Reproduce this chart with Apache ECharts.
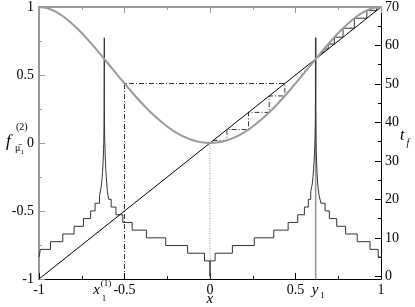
<!DOCTYPE html>
<html><head><meta charset="utf-8">
<script src="https://cdn.jsdelivr.net/npm/echarts@6/dist/echarts.min.js"></script>
<style>html,body{margin:0;padding:0;background:#fff}#c{width:415px;height:307px}</style>
</head><body><div id="c"></div>
<script>
// gray curve f^(2), read at x = -1 .. 1 step 0.05
const curveX = [-1,-0.95,-0.9,-0.85,-0.8,-0.75,-0.7,-0.65,-0.6,-0.55,-0.5,-0.45,-0.4,-0.35,-0.3,-0.25,-0.2,-0.15,-0.1,-0.05,0,
  0.05,0.1,0.15,0.2,0.25,0.3,0.35,0.4,0.45,0.5,0.55,0.6,0.65,0.7,0.75,0.8,0.85,0.9,0.95,1];
const curveY = [1,0.991,0.964,0.923,0.870,0.809,0.740,0.667,0.590,0.514,0.438,0.364,0.294,0.230,0.172,0.121,0.078,0.045,0.020,0.005,0,
  0.005,0.020,0.045,0.078,0.121,0.172,0.230,0.294,0.364,0.438,0.514,0.590,0.667,0.740,0.809,0.870,0.923,0.964,0.991,1];
// diagonal
const diagX = [-1, 1];
const diagY = [-1, 1];
// cobweb (dash-dot), lower part
const cobLowX = [-0.5,-0.5,0.4375,0.4375,0.346,0.346,0.225,0.225,0.099,0.099,0.019,0.019];
const cobLowY = [-1,0.4375,0.4375,0.346,0.346,0.225,0.225,0.099,0.099,0.019,0.019,0.002];
// cobweb (solid), upper part
const cobUpX = [0.65,0.65,0.6665,0.6665,0.6911,0.6911,0.7271,0.7271,0.7779,0.7779,0.8441,0.8441,0.9173,0.9173,0.9748,0.9748,0.9987];
const cobUpY = [0.65,0.6665,0.6665,0.6911,0.6911,0.7271,0.7271,0.7779,0.7779,0.8441,0.8441,0.9173,0.9173,0.9748,0.9748,0.9987,0.9987];
// vertical marker at y1 and dotted at 0
const y1X = [0.618, 0.618];
const y1Y = [-1, 0.773];
const dotX = [0, 0];
const dotY = [0, -1];
// staircase t_f : interval edges and values
const stairEdges = [-1,-0.992,-0.933,-0.861,-0.795,-0.740,-0.698,-0.672,-0.646,-0.637,-0.632,-0.6285,-0.626,-0.624,-0.6225,-0.621,-0.620,-0.619,-0.618,
  -0.618,
  -0.617,-0.616,-0.6145,-0.613,-0.6115,-0.6095,-0.607,-0.6035,-0.600,-0.592,-0.578,-0.550,-0.510,-0.455,-0.372,-0.259,-0.131,-0.032,0,
  0,
  0.030,0.131,0.259,0.373,0.457,0.513,0.552,0.575,0.589,0.598,0.6025,0.606,0.609,0.611,0.613,0.6145,0.616,0.617,0.618,
  0.618,
  0.619,0.620,0.621,0.6225,0.624,0.626,0.6285,0.632,0.638,0.649,0.673,0.698,0.741,0.793,0.861,0.936,0.984,1];
const stairValues = [5,7,9,11,13,15,17,19,21,23,25,27,29,31,33,35,39,45,
  62,
  45,40,36,34,32,30,28,26,24,22,20,18,16,14,12,10,8,6,4,
  0,
  4,6,8,10,12,14,16,18,20,22,24,26,28,30,32,34,36,40,45,
  62,
  45,39,35,33,31,29,27,25,23,21,19,17,15,13,11,9,7,5];
const rightTicks = [0,10,20,30,40,50,60,70];
const rightMinor = [5,15,25,35,45,55,65];

const zip = (a,b)=>a.map((v,i)=>[v,b[i]]);
const stairData = [];
for (let i=0;i<stairValues.length;i++){
  stairData.push([stairEdges[i], stairValues[i]], [stairEdges[i+1], stairValues[i]]);
}
const FONT = 'Liberation Serif';
const GRAY = '#9a9a9a';

const option = {
  animation:false,
  backgroundColor:'#fff',
  textStyle:{fontFamily:FONT},
  grid:{left:39, right:34, top:6, bottom:28},
  xAxis:[
    {type:'value', position:'bottom', min:-1, max:1, interval:0.5,
     axisLine:{onZero:false, lineStyle:{color:'#000', width:1}},
     axisTick:{inside:true, length:6, lineStyle:{color:'#000'}},
     minorTick:{show:true, splitNumber:2, length:3, lineStyle:{color:'#000'}},
     splitLine:{show:false},
     axisLabel:{margin:4, color:'#000', fontFamily:FONT, fontSize:14, formatter:v=>String(v)}},
    {type:'value', position:'top', min:-1, max:1, interval:0.5,
     axisLine:{onZero:false, lineStyle:{color:GRAY, width:2}},
     axisTick:{inside:true, length:6, lineStyle:{color:GRAY}},
     minorTick:{show:true, splitNumber:2, length:3, lineStyle:{color:GRAY}},
     splitLine:{show:false}, axisLabel:{show:false}}
  ],
  yAxis:[
    {type:'value', position:'left', min:-1, max:1, interval:0.5,
     axisLine:{show:true, onZero:false, lineStyle:{color:GRAY, width:2}},
     axisTick:{show:true, inside:true, length:6, lineStyle:{color:GRAY}},
     minorTick:{show:true, splitNumber:2, length:3, lineStyle:{color:GRAY}},
     splitLine:{show:false},
     axisLabel:{margin:5, color:'#000', fontFamily:FONT, fontSize:14, formatter:v=>String(v)}},
    {type:'value', position:'right', min:-0.7, max:70,
     axisLine:{show:true, onZero:false, lineStyle:{color:'#000', width:1}},
     axisTick:{show:false}, splitLine:{show:false}, axisLabel:{show:false}},
    {type:'value', position:'right', min:-0.7, max:70,
     axisLine:{show:false, onZero:false},
     axisTick:{show:true, inside:true, length:6, customValues:rightTicks, lineStyle:{color:'#000'}},
     splitLine:{show:false},
     axisLabel:{margin:4, color:'#000', fontFamily:FONT, fontSize:14, customValues:rightTicks}},
    {type:'value', position:'right', min:-0.7, max:70,
     axisLine:{show:false, onZero:false},
     axisTick:{show:true, inside:true, length:3, customValues:rightMinor, lineStyle:{color:'#000'}},
     splitLine:{show:false}, axisLabel:{show:false}}
  ],
  series:[
    {type:'line', name:'tf', xAxisIndex:0, yAxisIndex:1, data:stairData, symbol:'none',
     lineStyle:{color:'#333', width:1}, z:3},
    {type:'line', name:'y1', xAxisIndex:0, yAxisIndex:0, data:zip(y1X,y1Y), symbol:'none',
     lineStyle:{color:GRAY, width:1.6}, z:2},
    {type:'line', name:'dot', xAxisIndex:0, yAxisIndex:0, data:zip(dotX,dotY), symbol:'none',
     lineStyle:{color:GRAY, width:1, type:[1,1.5]}, z:2},
    {type:'line', name:'diag', xAxisIndex:0, yAxisIndex:0, data:zip(diagX,diagY), symbol:'none',
     lineStyle:{color:'#000', width:1}, z:4},
    {type:'line', name:'cobLow', xAxisIndex:0, yAxisIndex:0, data:zip(cobLowX,cobLowY), symbol:'none',
     lineStyle:{color:'#000', width:0.8, type:[5,2,1,2]}, z:4},
    {type:'line', name:'cobUp', xAxisIndex:0, yAxisIndex:0, data:zip(cobUpX,cobUpY), symbol:'none',
     lineStyle:{color:'#000', width:0.8}, z:4},
    {type:'line', name:'f2', xAxisIndex:0, yAxisIndex:0, data:zip(curveX,curveY), symbol:'none', smooth:0.3,
     lineStyle:{color:GRAY, width:2}, z:5}
  ]
};

const chart = echarts.init(document.getElementById('c'), null, {renderer:'canvas'});
function draw(){
  chart.setOption(option, true);
  const px = (x,y)=>chart.convertToPixel({xAxisIndex:0,yAxisIndex:0},[x,y]);
  const bx = px(-0.618,-1), by = px(0.618,-1), b0 = px(0,-1);
  const t = (text,left,top,size,italic)=>({type:'text', left:left, top:top,
    style:{text:text, fill:'#000', fontFamily:FONT, fontSize:size, fontStyle:italic?'italic':'normal'}});
  chart.setOption({graphic:[
    t('x', bx[0]-11, bx[1]+4, 15, true),
    t('(1)', bx[0]-3.5, bx[1]+0.5, 9, false),
    t('1', bx[0]-2.5, bx[1]+15, 9, false),
    t('y', by[0]-4, by[1]+4, 15, true),
    t('1', by[0]+4.5, by[1]+12, 9, false),
    t('x', b0[0]-3.5, b0[1]+13, 15, true),
    t('f', 6, 133, 17, true),
    t('(2)', 16, 122, 10, false),
    t('\u03bc\u0304', 15, 143, 10, false),
    t('1', 20.5, 149, 7, false),
    t('t', 400, 128, 16, true),
    t('f', 406.5, 138, 10, true)
  ]});
}
draw();
if (document.fonts && document.fonts.load) {
  Promise.all([
    document.fonts.load('14px "Liberation Serif"'),
    document.fonts.load('italic 14px "Liberation Serif"')
  ]).then(draw, draw);
}
</script></body></html>
